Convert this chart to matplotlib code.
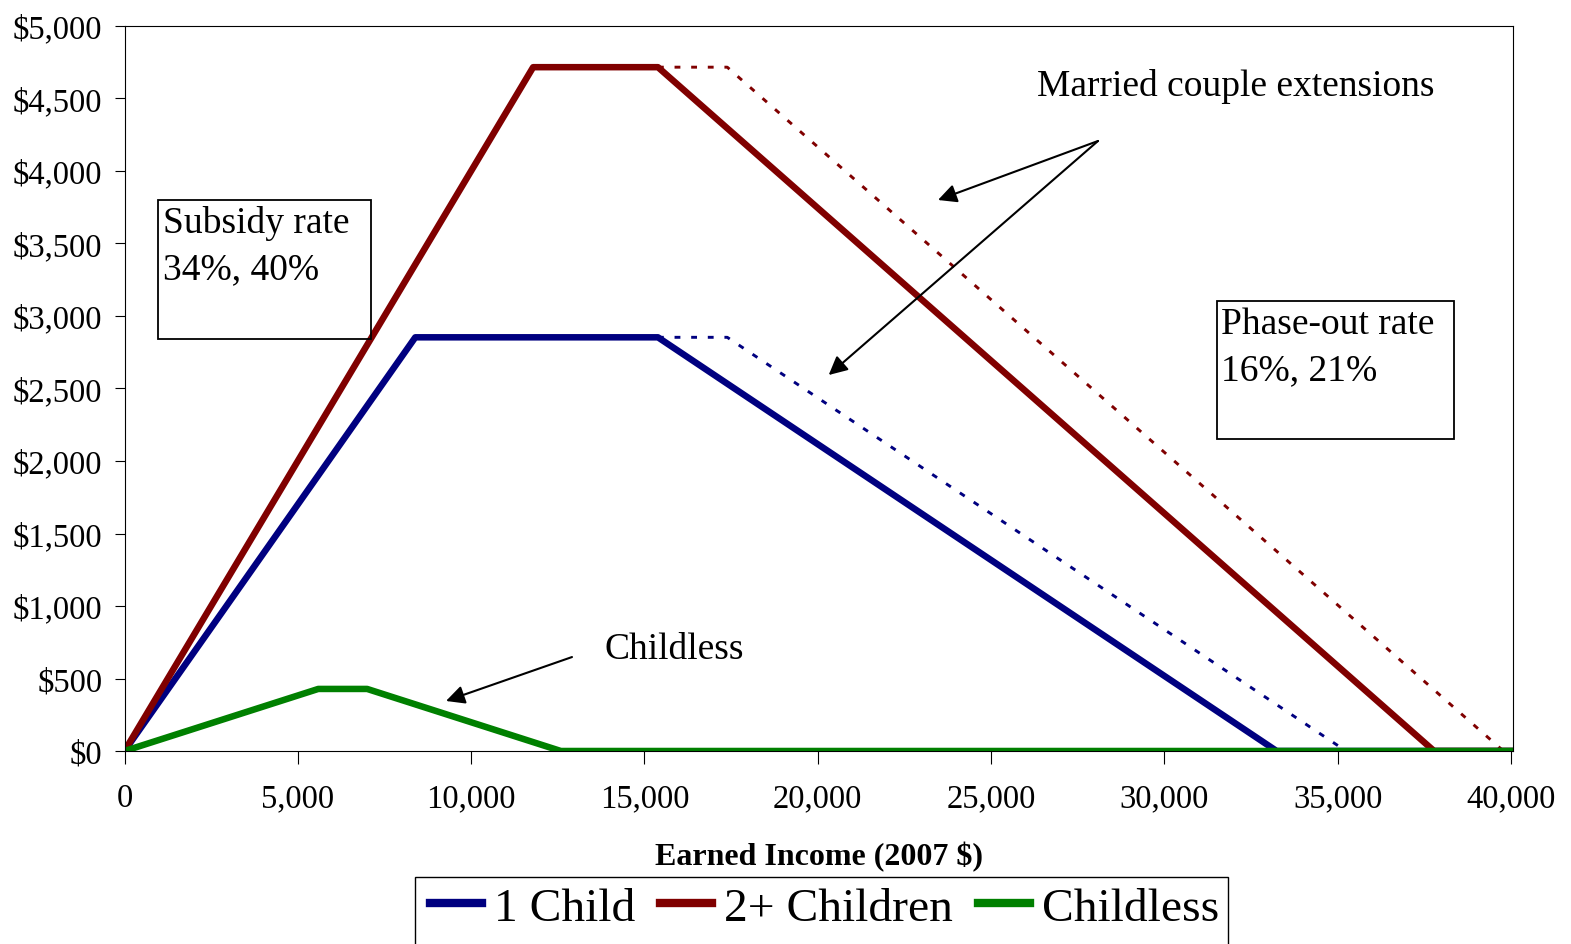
import matplotlib
matplotlib.use("Agg")
import matplotlib.pyplot as plt
from matplotlib.patches import Rectangle
from matplotlib.ticker import FuncFormatter

plt.rcParams['font.family'] = ['Liberation Serif', 'DejaVu Serif']

# ---- data (2007 EITC schedule) ----
series_names = ["1 Child", "2+ Children", "Childless"]
income_1child = [0, 8390, 15390, 33241, 40000]
credit_1child = [0, 2853, 2853, 0, 0]
income_2child = [0, 11790, 15390, 37783, 40000]
credit_2child = [0, 4716, 4716, 0, 0]
income_childless = [0, 5590, 7000, 12590, 40000]
credit_childless = [0, 428, 428, 0, 0]
married_income_1child = [15390, 17390, 35241]
married_credit_1child = [2853, 2853, 0]
married_income_2child = [15390, 17390, 39783]
married_credit_2child = [4716, 4716, 0]
x_ticks = [0, 5000, 10000, 15000, 20000, 25000, 30000, 35000, 40000]
y_ticks = [0, 500, 1000, 1500, 2000, 2500, 3000, 3500, 4000, 4500, 5000]

NAVY, MAROON, GREEN = "#000080", "#800000", "#008000"

W, H = 1571, 945
fig = plt.figure(figsize=(W / 100, H / 100), dpi=100)
ax = fig.add_axes([124.5 / W, 1 - 752 / H, (1513 - 124.5) / W, (752 - 27) / H])

dots = (0, (2.0, 3.7))
ax.plot(married_income_2child, married_credit_2child, color=MAROON, lw=2.1, linestyle=dots)
ax.plot(married_income_1child, married_credit_1child, color=NAVY, lw=2.1, linestyle=dots)
ax.plot(income_1child, credit_1child, color=NAVY, lw=4.7, label=series_names[0], solid_joinstyle='round')
ax.plot(income_2child, credit_2child, color=MAROON, lw=4.7, label=series_names[1], solid_joinstyle='round')
ax.plot(income_childless, credit_childless, color=GREEN, lw=4.7, label=series_names[2], solid_joinstyle='round')

ax.set_xlim(0, 40060)
ax.set_ylim(0, 5000)
ax.set_xticks(x_ticks)
ax.set_yticks(y_ticks)
ax.xaxis.set_major_formatter(FuncFormatter(lambda v, p: f"{int(v):,}"))
ax.yaxis.set_major_formatter(FuncFormatter(lambda v, p: f"${int(v):,}"))
ax.tick_params(axis='both', direction='out', labelsize=23.5, width=0.8, color='black')
ax.tick_params(axis='x', length=9, pad=14)
ax.tick_params(axis='y', length=7, pad=9)
for s in ax.spines.values():
    s.set_linewidth(0.8)
    s.set_color('black')

ax.set_xlabel("Earned Income (2007 $)", fontsize=23, fontweight='bold', labelpad=20)

# annotations
ax.text(32050, 4590, "Married couple extensions", fontsize=27, ha='center', va='center')
arrow = dict(arrowstyle='-|>', color='black', lw=1.5, mutation_scale=28, shrinkA=0, shrinkB=0)
ax.annotate("", xy=(23471, 3800), xytext=(28087, 4207), arrowprops=arrow)
ax.annotate("", xy=(20317, 2593), xytext=(28087, 4207), arrowprops=arrow)
ax.text(15850, 705, "Childless", fontsize=27, ha='center', va='center')
ax.annotate("", xy=(9276, 345), xytext=(12911, 648), arrowprops=arrow)

# text boxes (figure pixel positions converted to fractions)
def box(x0, y0, x1, y1, lines, tx, ty):
    fig.patches.append(Rectangle((x0 / W, 1 - y1 / H), (x1 - x0) / W, (y1 - y0) / H,
                                 transform=fig.transFigure, fill=False, edgecolor='black', lw=1.3))
    fig.text(tx / W, 1 - ty / H, lines, fontsize=27, ha='left', va='top', linespacing=1.45)

box(157.7, 201, 370.7, 340, "Subsidy rate\n34%, 40%", 163, 206)
box(1216.7, 301.7, 1454, 440, "Phase-out rate\n16%, 21%", 1221, 307)

# legend (frame drawn separately, it runs past the bottom of the figure)
fig.patches.append(Rectangle((415 / W, 1 - 965 / H), (1228 - 415) / W, (965 - 878) / H,
                             transform=fig.transFigure, fill=False, edgecolor='black', lw=1.0))
leg = fig.legend(loc='center left', bbox_to_anchor=(430 / W, 1 - 909 / H), ncol=3,
                 fontsize=34.2, frameon=False,
                 handlelength=1.1, handletextpad=0.25, columnspacing=0.52,
                 borderpad=0, borderaxespad=0)
for h in leg.get_lines():
    h.set_linewidth(6)

fig.savefig("out.png", dpi=100)
